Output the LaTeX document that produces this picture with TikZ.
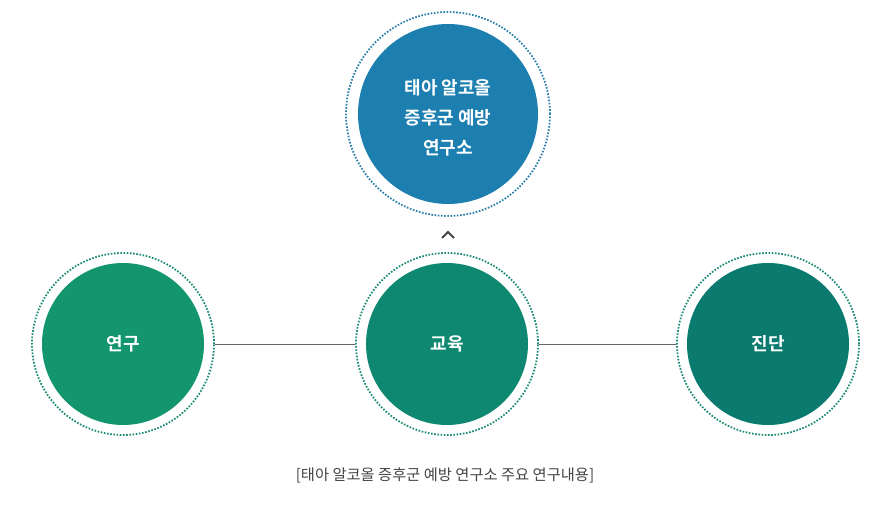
\documentclass[tikz,border=0pt]{standalone}
\usepackage{fontspec}
\newfontfamily\kr{Noto Sans CJK KR}
\newfontfamily\krb{Noto Sans CJK KR Bold}
\definecolor{cblue}{HTML}{1C7FB0}
\definecolor{cgreenA}{HTML}{13956E}
\definecolor{cgreenB}{HTML}{0E8870}
\definecolor{cgreenC}{HTML}{0B7B70}
\definecolor{dotblue}{HTML}{2A7FAA}
\definecolor{dotgreen}{HTML}{1A8A74}
\definecolor{linegray}{HTML}{666666}
\definecolor{captiongray}{HTML}{444444}
\tikzset{
  disc/.style={circle, inner sep=0pt, minimum size=#1, text=white, font=\krb\fontsize{18}{30}\selectfont, align=center},
  ring/.style={circle, inner sep=0pt, minimum size=#1, draw=dotgreen, line width=1.8pt, dash pattern=on 1.6pt off 1.6pt},
  link/.style={draw=linegray, line width=1pt},
}
\begin{document}
\begin{tikzpicture}[x=1pt,y=-1pt]
\useasboundingbox (0,0) rectangle (895,508);
% top
\node[ring=204pt, draw=dotblue] (topring) at (448,114) {};
\node[disc=180pt, fill=cblue] (top) at (448,114) {};
\node[text=white, font=\krb\fontsize{18}{30}\selectfont, align=center] (toptext) at (448,118) {태아 알코올\\증후군 예방\\연구소};
% caret
\coordinate (caretL) at (442,238);
\coordinate (caretM) at (448,232);
\coordinate (caretR) at (454,238);
\draw[draw=captiongray, line width=2pt] (caretL) -- (caretM) -- (caretR);
% bottom
\node[ring=182pt] (ringA) at (123,344) {};
\node[disc=162pt, fill=cgreenA] (research) at (123,344) {연구};
\node[ring=182pt] (ringB) at (447,344) {};
\node[disc=162pt, fill=cgreenB] (edu) at (447,344) {교육};
\node[ring=182pt] (ringC) at (768,344) {};
\node[disc=162pt, fill=cgreenC] (diag) at (768,344) {진단};
\draw[link] (ringA.east) -- (ringB.west);
\draw[link] (ringB.east) -- (ringC.west);
% caption
\node[font=\kr\fontsize{15.3}{18}\selectfont, text=captiongray] (caption) at (445,475) {[태아 알코올 증후군 예방 연구소 주요 연구내용]};
\end{tikzpicture}
\end{document}
